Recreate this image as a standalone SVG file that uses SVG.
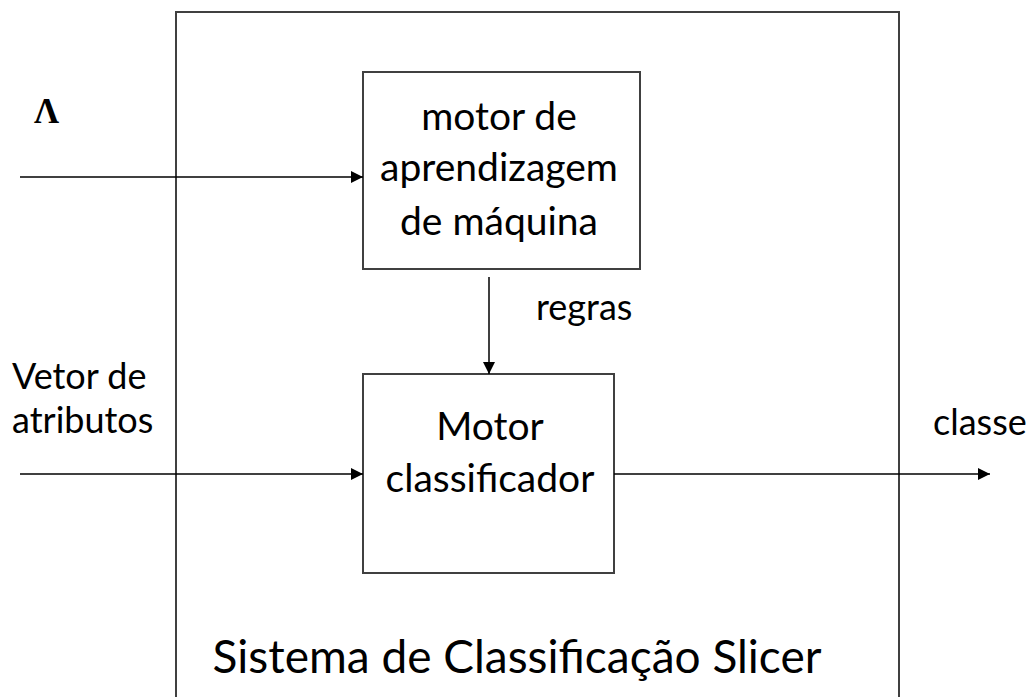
<svg xmlns="http://www.w3.org/2000/svg" width="1031" height="697" viewBox="0 0 1031 697">
<style>
.box{fill:#fff;stroke:#404040;stroke-width:2}
.t{font-family:Lato,"Liberation Sans",sans-serif;fill:#000}
.c{font-size:39px;text-anchor:middle}
.l{font-size:36px}
.e{stroke:#000;stroke-width:1.5;fill:none}
</style>
<defs>
<marker id="ah" viewBox="0 0 12 12" refX="12" refY="6" markerWidth="12" markerHeight="12" markerUnits="userSpaceOnUse" orient="auto">
<path d="M0,0 L12,6 L0,12 Z" fill="#000"/>
</marker>
</defs>
<rect width="1031" height="697" fill="#fff"/>
<g id="system">
<path class="box" d="M176,700 V12 H899 V700"/>
<text class="t" x="517" y="673" font-size="46" text-anchor="middle">Sistema de Classificação Slicer</text>
</g>
<g id="ml-engine">
<rect class="box" x="363" y="72" width="277" height="197"/>
<text class="t c" x="499" y="130">motor de</text>
<text class="t c" x="499" y="181">aprendizagem</text>
<text class="t c" x="499" y="235">de máquina</text>
</g>
<g id="classifier">
<rect class="box" x="363" y="374" width="251" height="199"/>
<text class="t c" x="490" y="440">Motor</text>
<text class="t c" x="490" y="492">classificador</text>
</g>
<g id="labels">
<text x="34" y="123" font-family="Liberation Serif,serif" font-size="35" font-weight="bold">Λ</text>
<text class="t l" x="12" y="389">Vetor de</text>
<text class="t l" x="12" y="433">atributos</text>
<text class="t l" x="536" y="320">regras</text>
<text class="t l" x="933" y="435">classe</text>
</g>
<g id="connectors">
<line class="e" x1="20" y1="177" x2="363" y2="177" marker-end="url(#ah)"/>
<line class="e" x1="489" y1="277" x2="489" y2="374" marker-end="url(#ah)"/>
<line class="e" x1="20" y1="474" x2="363" y2="474" marker-end="url(#ah)"/>
<line class="e" x1="614" y1="474" x2="990" y2="474" marker-end="url(#ah)"/>
</g>
</svg>
